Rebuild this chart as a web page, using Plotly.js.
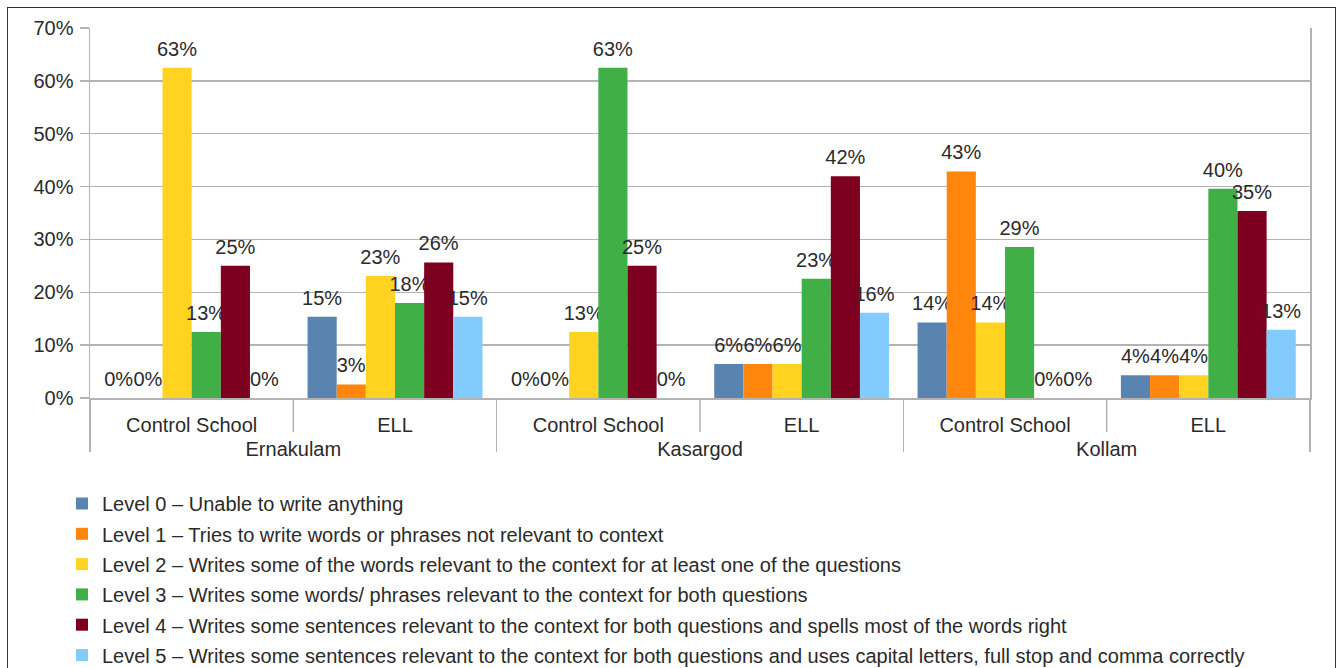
<!DOCTYPE html>
<html>
<head>
<meta charset="utf-8">
<script src="https://cdn.plot.ly/plotly-3.0.1.min.js"></script>
<style>
html,body{margin:0;padding:0;background:#fff;overflow:hidden;width:1341px;height:668px;}
#chart{width:1341px;height:700px;}
#frame{position:absolute;left:7px;top:7px;width:1329px;height:720px;border:1px solid #333;box-sizing:border-box;pointer-events:none;}
</style>
</head>
<body>
<div id="chart"></div>
<div id="frame"></div>
<script>
const districts = ['Ernakulam','Ernakulam','Kasargod','Kasargod','Kollam','Kollam'];
const schools = ['Control School','ELL','Control School','ELL','Control School','ELL'];
const seriesNames = [
  'Level 0 – Unable to write anything',
  'Level 1 – Tries to write words or phrases not relevant to context',
  'Level 2 – Writes some of the words relevant to the context for at least one of the questions',
  'Level 3 – Writes some words/ phrases relevant to the context for both questions',
  'Level 4 – Writes some sentences relevant to the context for both questions and spells most of the words right',
  'Level 5 – Writes some sentences relevant to the context for both questions and uses capital letters, full stop and comma correctly'
];
const level0 = [0, 15.38, 0, 6.45, 14.29, 4.3];
const level1 = [0, 2.56, 0, 6.45, 42.86, 4.3];
const level2 = [62.5, 23.08, 12.5, 6.45, 14.29, 4.3];
const level3 = [12.5, 17.95, 62.5, 22.58, 28.57, 39.6];
const level4 = [25, 25.64, 25, 41.94, 0, 35.4];
const level5 = [0, 15.38, 0, 16.13, 0, 12.9];
const colors = ['#5983b0','#ff860d','#ffd320','#3faf46','#7e0021','#83caff'];
const yTicks = [0,10,20,30,40,50,60,70];

const series = [level0, level1, level2, level3, level4, level5];
const font = 'Liberation Sans, Arial, sans-serif';
const FS = 20;
const traces = series.map((vals, i) => ({
  type: 'bar',
  name: seriesNames[i],
  legendgroup: 'g' + i,
  x: [districts, schools],
  y: vals,
  marker: {color: colors[i], line: {width: 0}},
  texttemplate: '%{y:.0f}%',
  textposition: 'outside',
  constraintext: 'none',
  cliponaxis: false,
  textfont: {family: font, size: FS, color: '#2a2a2a'},
  hoverinfo: 'skip'
}));

const W = 1220, H = 370;
const layout = {
  width: 1341, height: 700,
  margin: {l: 90, r: 31, t: 28, b: 302},
  paper_bgcolor: '#fff', plot_bgcolor: '#fff',
  barmode: 'group', bargap: 0.14, bargroupgap: 0,
  font: {family: font, size: FS, color: '#2a2a2a'},
  showlegend: true,
  legend: {
    orientation: 'v', xref: 'paper', yref: 'paper',
    x: (62 - 90) / W, y: (398 - 484) / H, xanchor: 'left', yanchor: 'top',
    font: {family: font, size: FS, color: '#2a2a2a'},
    tracegroupgap: 1.3, traceorder: 'grouped', bgcolor: 'rgba(0,0,0,0)'
  },
  xaxis: {
    type: 'multicategory',
    showline: true, linecolor: '#b3b3b3', linewidth: 1.5,
    showdividers: true, dividercolor: '#b3b3b3', dividerwidth: 1.5,
    tickfont: {family: font, size: FS, color: '#2a2a2a'}, tickangle: 0,
    ticks: '', showgrid: false, fixedrange: true, automargin: false
  },
  yaxis: {
    range: [0, 70], tickvals: yTicks, ticktext: yTicks.map(v => v + '%'),
    showgrid: true, gridcolor: '#b3b3b3', gridwidth: 1.5,
    showline: true, mirror: true, linecolor: '#b3b3b3', linewidth: 1.5,
    ticks: 'outside', ticklen: 9, tickcolor: '#b3b3b3', tickwidth: 1.5,
    ticklabelstandoff: 2,
    zeroline: false, automargin: false,
    tickfont: {family: font, size: FS, color: '#2a2a2a'}, fixedrange: true
  },
  shapes: [0.5, 2.5, 4.5].map(p => ({
    type: 'line', xref: 'x', yref: 'paper', x0: p, x1: p, y0: 0, y1: -0.092,
    line: {color: '#b3b3b3', width: 1.5}
  }))
};

function nudge(sel, dy) {
  document.querySelectorAll(sel).forEach(t => {
    const tr = t.getAttribute('transform') || '';
    t.setAttribute('transform', 'translate(0,' + dy + ') ' + tr);
  });
}

Plotly.newPlot('chart', traces, layout, {displayModeBar: false, staticPlot: true}).then(gd => {
  nudge('#chart text.bartext', -5);
  nudge('#chart g.xtick > text, #chart g.xtick2 > text', 8);
  document.querySelectorAll('#chart path.xdivider').forEach(p => {
    const d = p.getAttribute('d') || '';
    const m = d.match(/^M([-\d.]+),([-\d.]+)V([-\d.]+)$/);
    if (m) p.setAttribute('d', 'M' + m[1] + ',' + m[2] + 'V' + (parseFloat(m[3]) + 4));
  });
});
</script>
</body>
</html>
